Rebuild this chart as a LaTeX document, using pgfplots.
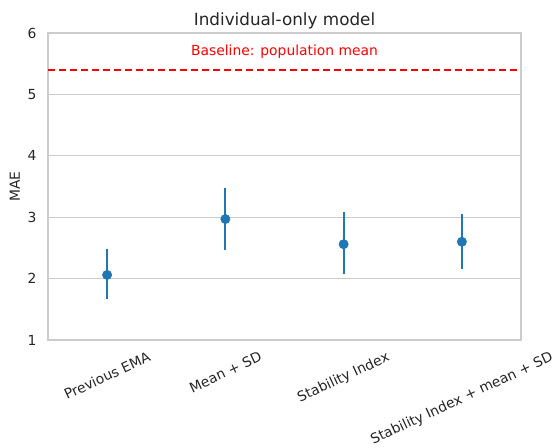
\documentclass[border=0pt]{standalone}
\usepackage{fontspec}
\setmainfont{DejaVu Sans}
\usepackage{graphicx}
\usepackage{pgfplots}
\pgfplotsset{compat=1.18}
\definecolor{tabblue}{HTML}{1F77B4}
\definecolor{txt}{HTML}{262626}
\definecolor{gridc}{HTML}{CCCCCC}
\begin{document}
\begin{tikzpicture}
\begin{axis}[
  scale only axis,
  width=354.75pt, height=230.25pt,
  xmin=-0.5, xmax=3.5, ymin=1, ymax=6,
  xtick={0,1,2,3},
  xticklabels={\rotatebox{25}{Previous EMA},\rotatebox{25}{Mean + SD},\rotatebox{25}{Stability Index},\rotatebox{25}{Stability Index + mean + SD}},
  ytick={1,2,3,4,5,6},
  /pgf/number format/assume math mode=true,
  major tick length=0pt,
  axis line style={gridc, line width=0.8pt},
  ymajorgrids, grid style={gridc, line width=0.8pt},
  tick label style={font=\fontsize{10.4}{12}\selectfont, text=txt},
  xticklabel style={anchor=north, inner sep=0pt, yshift=-8pt},
  yticklabel style={anchor=east, inner sep=0pt, xshift=-8.5pt},
  ylabel={MAE},
  ylabel style={font=\fontsize{10.4}{12}\selectfont, text=txt, at={(axis description cs:-0.07,0.5)}, anchor=center},
  title={Individual-only model},
  title style={font=\fontsize{12.6}{14}\selectfont, text=txt, at={(axis description cs:0.5,1)}, anchor=south, inner sep=0pt, yshift=-3pt},
  clip=false,
]
\addplot[red, line width=1.5pt, dash pattern=on 5.5pt off 2.75pt] coordinates {(-0.5,5.40) (3.5,5.40)};
\addplot[tabblue, only marks, mark=*, mark size=3.5pt,
  error bars/.cd, y dir=both, y explicit, error mark=none,
  error bar style={line width=1.65pt, tabblue}]
  table[x=x, y=y, y error plus=ep, y error minus=em] {
x y ep em
0 2.06 0.43 0.40
1 2.97 0.50 0.50
2 2.56 0.52 0.49
3 2.60 0.46 0.44
};
\node[anchor=base, text=red, font=\fontsize{10.4}{12}\selectfont] at (axis cs:1.5,5.63) {Baseline: population mean};
\end{axis}
\pgfresetboundingbox
\path[use as bounding box] (-36pt,-81pt) rectangle (381pt,255pt);
\end{tikzpicture}
\end{document}
